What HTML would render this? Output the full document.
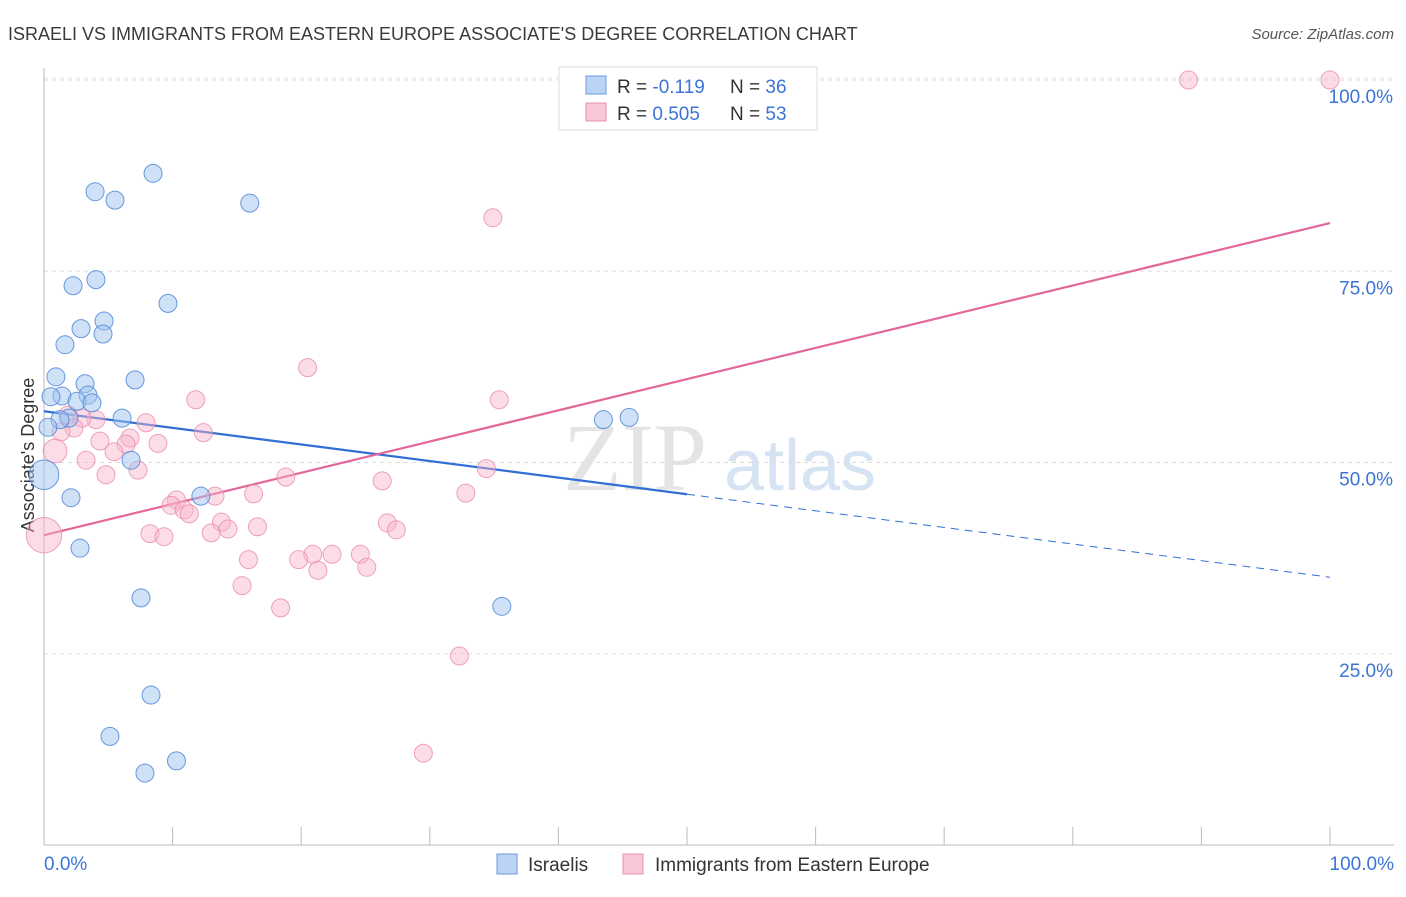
<!DOCTYPE html>
<html><head><meta charset="utf-8"><style>
body{margin:0;background:#fff;font-family:"Liberation Sans",sans-serif}
</style></head><body>
<svg id="c" width="1406" height="892" xmlns="http://www.w3.org/2000/svg">
<text x="8" y="40" font-size="18" fill="#3a3a3a">ISRAELI VS IMMIGRANTS FROM EASTERN EUROPE ASSOCIATE'S DEGREE CORRELATION CHART</text>
<text x="1394" y="39" font-size="15" fill="#555" font-style="italic" text-anchor="end">Source: ZipAtlas.com</text>
<text transform="translate(34,455) rotate(-90)" font-size="18" fill="#333" text-anchor="middle">Associate's Degree</text>
<g id="wm">
<text x="635" y="490" font-size="96" font-family="Liberation Serif,serif" fill="#e4e4e4" text-anchor="middle">ZIP</text>
<text x="800" y="490" font-size="72" fill="#d5e3f3" text-anchor="middle">atlas</text>
</g>
<g id="grid"></g><g id="axes"></g><g id="lines"></g><g id="pts"></g>
<g>
<rect x="559" y="67" width="258" height="63" fill="#fff" stroke="#ddd"/>
<rect x="586" y="76" width="20" height="18" fill="#b9d4f5" stroke="#6b9de0"/>
<rect x="586" y="103" width="20" height="18" fill="#f9c7d6" stroke="#e892ad"/>
<text x="617" y="93" font-size="19" fill="#333">R = <tspan fill="#3b74d6">-0.119</tspan></text>
<text x="730" y="93" font-size="19" fill="#333">N = <tspan fill="#3b74d6">36</tspan></text>
<text x="617" y="120" font-size="19" fill="#333">R = <tspan fill="#3b74d6">0.505</tspan></text>
<text x="730" y="120" font-size="19" fill="#333">N = <tspan fill="#3b74d6">53</tspan></text>
</g>
<g>
<rect x="497" y="854" width="20" height="20" fill="#b9d4f5" stroke="#6b9de0"/>
<text x="528" y="871" font-size="19" fill="#333">Israelis</text>
<rect x="623" y="854" width="20" height="20" fill="#f9c7d6" stroke="#e892ad"/>
<text x="655" y="871" font-size="19" fill="#333">Immigrants from Eastern Europe</text>
</g>
</svg>
<script>
const blueX=[8.48,3.97,5.52,16.0,4.04,2.26,9.64,4.67,2.88,4.59,1.63,0.93,7.08,3.19,1.40,3.42,0.54,2.57,3.73,6.07,1.94,1.24,0.31,6.77,0,2.10,12.2,2.80,7.54,35.6,8.32,5.13,7.85,10.3,43.5,45.5];
const blueY=[87.8,85.4,84.3,83.9,73.9,73.1,70.8,68.5,67.5,66.8,65.4,61.2,60.8,60.3,58.7,58.8,58.6,58.0,57.8,55.8,55.8,55.6,54.6,50.3,48.4,45.4,45.6,38.8,32.3,31.2,19.6,14.2,9.4,11.0,55.6,55.9];
const blueW=[1,1,1,1,1,1,1,1,1,1,1,1,1,1,1,1,1,1,1,1,1,1,1,1,3,1,1,1,1,1,1,1,1,1,1,1];
const pinkX=[89.0,100,34.9,20.5,11.8,35.4,1.87,4.04,2.95,7.93,2.33,1.32,12.4,6.69,4.35,8.86,6.38,0.86,5.44,3.27,7.31,34.4,4.82,18.8,26.3,32.8,16.3,13.3,10.3,9.88,10.9,11.3,13.8,26.7,14.3,16.6,27.4,8.24,9.33,13.0,0,20.9,22.4,24.6,19.8,15.9,21.3,25.1,15.4,18.4,32.3,29.5];
const pinkY=[100,100,82.0,62.4,58.2,58.2,56.2,55.6,55.8,55.2,54.5,54.0,53.9,53.2,52.8,52.5,52.4,51.5,51.4,50.3,49.0,49.2,48.4,48.1,47.6,46.0,45.9,45.6,45.1,44.4,43.8,43.3,42.2,42.1,41.3,41.6,41.2,40.7,40.3,40.8,40.5,38.0,38.0,38.0,37.3,37.3,35.9,36.3,33.9,31.0,24.7,12.0];
const pinkW=[1,1,1,1,1,1,1,1,1,1,1,1,1,1,1,1,1,2,1,1,1,1,1,1,1,1,1,1,1,1,1,1,1,1,1,1,1,1,1,1,4,1,1,1,1,1,1,1,1,1,1,1];
const yTicks=[25,50,75,100];
const blueTrend=[56.7,35.0];
const pinkTrend=[40.5,81.3];
const NS='http://www.w3.org/2000/svg';
const X=v=>44+v*12.86, Y=v=>845-v*7.65;
function mk(t,a,p){const e=document.createElementNS(NS,t);for(const k in a)e.setAttribute(k,a[k]);document.getElementById(p).appendChild(e);return e;}
yTicks.forEach(t=>{
 const g=mk('line',{x1:44,x2:1394,y1:Y(t),y2:Y(t),stroke:'#ddd','stroke-dasharray':'4,4'},'grid');
 
 
 const l=mk('text',{x:1393,y:Y(t)+23,'font-size':19,fill:'#3b74d6','text-anchor':'end'},'axes');
 l.textContent=t.toFixed(1)+'%';
 
 
});
mk('line',{x1:44,x2:1394,y1:Y(100)-2,y2:Y(100)-2,stroke:'#e6e6e6','stroke-dasharray':'4,4'},'grid');
mk('line',{x1:44,x2:44,y1:68,y2:845,stroke:'#bbb'},'axes');
mk('line',{x1:44,x2:1394,y1:845,y2:845,stroke:'#bbb'},'axes');
for(let i=0;i<=10;i++){mk('line',{x1:X(i*10),x2:X(i*10),y1:827,y2:845,stroke:'#bbb'},'axes');}
const x0=mk('text',{x:44,y:870,'font-size':19,fill:'#3b74d6'},'axes');x0.textContent='0.0%';


const x1=mk('text',{x:1394,y:870,'font-size':19,fill:'#3b74d6','text-anchor':'end'},'axes');x1.textContent='100.0%';


function pts(xs,ys,ws,fill,stroke,name){xs.forEach((x,i)=>{const c=mk('circle',{cx:X(x),cy:Y(ys[i]),r:9+(ws[i]-1)*2.9,fill:fill,stroke:stroke,'stroke-width':1},'pts');
 
 });}
pts(pinkX,pinkY,pinkW,'rgba(248,180,202,0.45)','rgba(232,140,170,0.8)','immigrants-point');
pts(blueX,blueY,blueW,'rgba(160,195,240,0.5)','rgba(80,135,215,0.85)','israelis-point');
const bm=blueTrend[0]+(blueTrend[1]-blueTrend[0])*0.5;
const b1=mk('line',{x1:X(0),y1:Y(blueTrend[0]),x2:X(50),y2:Y(bm),stroke:'#2f6fd6','stroke-width':2.2},'lines');


const b2=mk('line',{x1:X(50),y1:Y(bm),x2:X(100),y2:Y(blueTrend[1]),stroke:'#2f6fd6','stroke-width':1,'stroke-dasharray':'8,6'},'lines');


const p1=mk('line',{x1:X(0),y1:Y(pinkTrend[0]),x2:X(100),y2:Y(pinkTrend[1]),stroke:'#e2679a','stroke-width':2.2},'lines');


</script>
</body></html>
